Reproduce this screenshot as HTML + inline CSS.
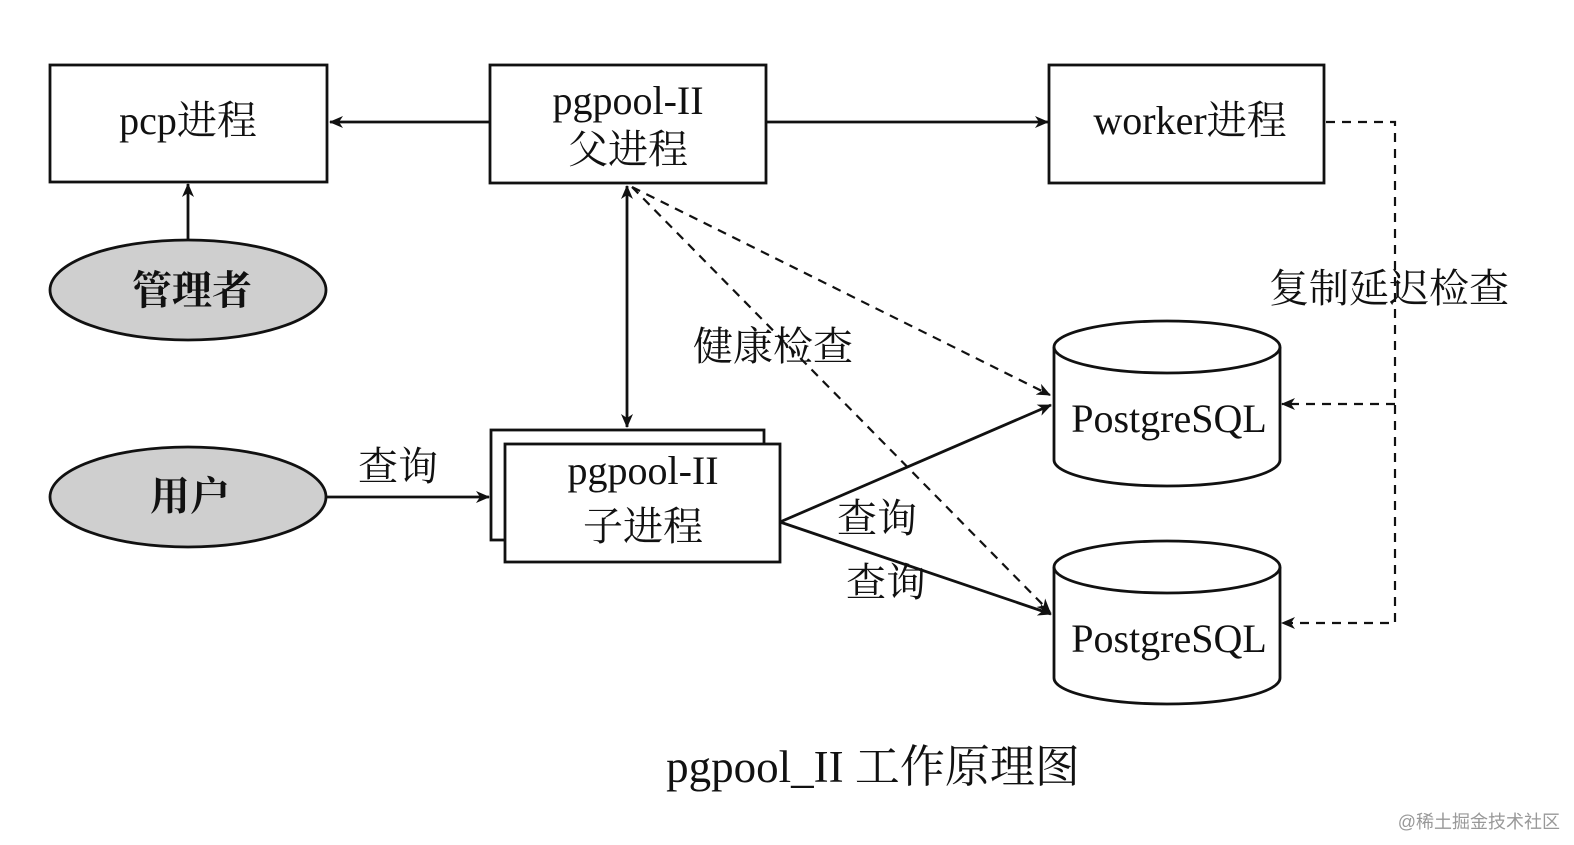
<!DOCTYPE html>
<html><head><meta charset="utf-8"><style>
body{margin:0;background:#fff}
svg text{font-family:"Liberation Serif","Noto Serif CJK SC",serif;fill:#111}
</style></head><body>
<svg width="1574" height="840" viewBox="0 0 1574 840">
<defs>
<marker id="a" markerWidth="14" markerHeight="12" refX="13" refY="6" orient="auto" markerUnits="userSpaceOnUse"><path d="M0,0 L14,6 L0,12 L4,6 z" fill="#111"/></marker>
<marker id="b" markerWidth="14" markerHeight="12" refX="1" refY="6" orient="auto" markerUnits="userSpaceOnUse"><path d="M14,0 L0,6 L14,12 L10,6 z" fill="#111"/></marker>
</defs>
<g stroke="#111" stroke-width="2.8" fill="#fff">
<rect x="50" y="65" width="277" height="117"/>
<rect x="490" y="65" width="276" height="118"/>
<rect x="1049" y="65" width="275" height="118"/>
<ellipse cx="188" cy="290" rx="138" ry="50" fill="#cfcfcf"/>
<ellipse cx="188" cy="497" rx="138" ry="50" fill="#cfcfcf"/>
<rect x="491" y="430" width="273" height="110"/>
<rect x="505" y="444" width="275" height="118"/>
<path d="M1054,347 L1054,460 A113,26 0 0 0 1280,460 L1280,347"/>
<ellipse cx="1167" cy="347" rx="113" ry="26"/>
<path d="M1054,567 L1054,678 A113,26 0 0 0 1280,678 L1280,567"/>
<ellipse cx="1167" cy="567" rx="113" ry="26"/>
</g>
<g stroke="#111" stroke-width="2.8" fill="none">
<line x1="490" y1="122" x2="330" y2="122" marker-end="url(#a)"/>
<line x1="766" y1="122" x2="1048" y2="122" marker-end="url(#a)"/>
<line x1="188" y1="240" x2="188" y2="184" marker-end="url(#a)"/>
<line x1="627" y1="186" x2="627" y2="427" marker-start="url(#b)" marker-end="url(#a)"/>
<line x1="327" y1="497" x2="489" y2="497" marker-end="url(#a)"/>
<line x1="780" y1="522" x2="1051" y2="405" marker-end="url(#a)"/>
<line x1="780" y1="522" x2="1051" y2="614" marker-end="url(#a)"/>
</g>
<g stroke="#111" stroke-width="2.2" fill="none" stroke-dasharray="9,7">
<line x1="632" y1="187" x2="1050" y2="395" marker-end="url(#a)"/>
<line x1="632" y1="187" x2="1050" y2="612" marker-end="url(#a)"/>
<path d="M1326,122 L1395,122 L1395,623 L1282,623" marker-end="url(#a)"/>
<path d="M1395,404 L1282,404" marker-end="url(#a)"/>
</g>
<g font-size="40" text-anchor="middle">
<text x="188" y="134">pcp进程</text>
<text x="628" y="114">pgpool-II</text>
<text x="628" y="163">父进程</text>
<text x="1190" y="134">worker进程</text>
<text x="192" y="304" font-weight="bold">管理者</text>
<text x="190" y="510" font-weight="bold">用户</text>
<text x="643" y="484">pgpool-II</text>
<text x="643" y="540">子进程</text>
<text x="1169" y="432">PostgreSQL</text>
<text x="1169" y="652">PostgreSQL</text>
<text x="398" y="480">查询</text>
<text x="877" y="532">查询</text>
<text x="886" y="596">查询</text>
<text x="773" y="360">健康检查</text>
<text x="1389" y="302">复制延迟检查</text>
<text x="873" y="782" font-size="45">pgpool_II 工作原理图</text>
</g>
<text x="1560" y="828" font-size="18" text-anchor="end" style="fill:#999;font-family:'Liberation Sans','Noto Sans CJK SC',sans-serif">@稀土掘金技术社区</text>
</svg>
</body></html>
